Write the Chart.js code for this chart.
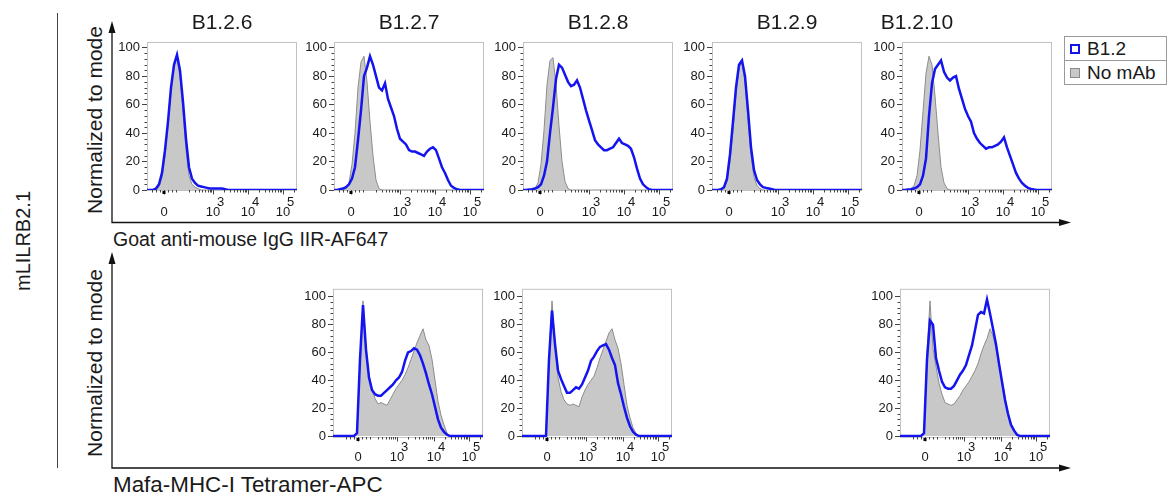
<!DOCTYPE html>
<html>
<head>
<meta charset="utf-8">
<script src="https://cdn.jsdelivr.net/npm/chart.js@4.4.1/dist/chart.umd.min.js"></script>
<style>
  body { margin: 0; background: #fff; }
  #page { position: relative; width: 1167px; height: 497px; overflow: hidden; font-family: "Liberation Sans", Arial, Helvetica, sans-serif; color: #1a1a1a; }
  #page canvas { position: absolute; }
  #frame { position: absolute; left: 0; top: 0; }
  #legend { position: absolute; left: 1064px; top: 36px; width: 101px; border: 1px solid #9a9a9a; background: #fff; }
  #legend .row { position: relative; height: 23px; font-size: 19px; line-height: 23px; padding-left: 22px; }
  #legend .row + .row { border-top: 1px solid #9a9a9a; }
  #legend .sw { position: absolute; left: 5px; top: 7px; width: 6px; height: 6px; }
</style>
</head>
<body>
<div id="page">
  <svg id="frame" width="1167" height="497" font-family="Liberation Sans, Arial, Helvetica, sans-serif" fill="#1a1a1a">
    <line x1="57.5" y1="13" x2="57.5" y2="468" stroke="#444" stroke-width="1"/>
    <!-- top row axes -->
    <polyline points="112,32 112,222.5 1060,222.5" fill="none" stroke="#111" stroke-width="1.3"/>
    <polygon points="112,21 108.5,33 115.5,33" fill="#111"/>
    <polygon points="1071,222.5 1059,219 1059,226" fill="#111"/>
    <!-- bottom row axes -->
    <polyline points="112,263 112,468 1060,468" fill="none" stroke="#111" stroke-width="1.3"/>
    <polygon points="112,252 108.5,264 115.5,264" fill="#111"/>
    <polygon points="1071,468 1059,464.5 1059,471.5" fill="#111"/>
    <text x="102" y="120" font-size="21" text-anchor="middle" transform="rotate(-90 102 120)">Normalized to mode</text>
    <text x="102" y="363" font-size="21" text-anchor="middle" transform="rotate(-90 102 363)">Normalized to mode</text>
    <text x="30" y="241" font-size="20" text-anchor="middle" transform="rotate(-90 30 241)">mLILRB2.1</text>
    <text x="113" y="246" font-size="19.5">Goat anti-mouse IgG IIR-AF647</text>
    <text x="113" y="492" font-size="22.4">Mafa-MHC-I Tetramer-APC</text>
  </svg>
  <div id="legend">
    <div class="row"><span class="sw" style="border:2px solid #1414f0;background:#fff"></span>B1.2</div>
    <div class="row"><span class="sw" style="border:1px solid #8a8a8a;background:#c8c8c8;width:8px;height:8px"></span>No mAb</div>
  </div>
</div>
<script>
// histogram bins (channel position across the plot, 0..150)
const binX = [0,3,6,9,12,15,18,21,24,27, 30,33,36,39,42,45,48,51,54,57,
              60,63,66,69,72,75,78,81,84,87, 90,93,96,99,102,105,108,111,114,117,
              120,123,126,129,132,135,138,141,144,147, 150];

const panelTitles = ['B1.2.6', 'B1.2.7', 'B1.2.8', 'B1.2.9', 'B1.2.10'];
const seriesNames = ['B1.2', 'No mAb'];

// y ticks and x tick labels (0, 10^3, 10^4, 10^5)
const yTickValues = [0, 20, 40, 60, 80, 100];
const xTickBase = ['0', '10', '10', '10'];
const xTickExp = ['', '3', '4', '5'];
const xTickPosTop = [17, 66, 101, 136];
const xTickPosBottom = [25, 64, 101, 136];

// --- Goat anti-mouse IgG (top row) ---
const anti126 = [0,0,0,1,4,12,28,48,72,88, 95,84,62,36,16,8,5,3,2.5,2,
                 1.5,1,1,1,1,1,0.5,0,0,0, 0,0,0,0,0,0,0,0,0,0,
                 0,0,0,0,0,0,0,0,0,0, 0];
const ctrl126 = [0,0,0,0,2,9,24,45,70,88, 93,80,55,28,10,4,2,1,0,0,
                 0,0,0,0,0,0,0,0,0,0, 0,0,0,0,0,0,0,0,0,0,
                 0,0,0,0,0,0,0,0,0,0, 0];
const anti127 = [0,0,0.5,1,2,4,8,16,35,56, 80,86,94,88,80,72,70,75,64,58,
                 52,43,36,34,32,28,27,27,26,25, 24,27,29,30,28,22,16,12,7,3,
                 1.5,0.5,0,0,0,0,0,0,0,0, 0];
const ctrl127 = [0,0,0,0,1,5,18,40,72,90, 94,76,48,24,7,1,0,0,0,0,
                 0,0,0,0,0,0,0,0,0,0, 0,0,0,0,0,0,0,0,0,0,
                 0,0,0,0,0,0,0,0,0,0, 0];
const anti128 = [0,0,0.3,0.5,1,2,4,10,20,40, 58,78,88,86,81,76,73,74,77,72,
                 64,56,49,42,35,32,30,28,28,29, 30,33,36,33,32,31,29,23,15,8,
                 4,2,0.5,0,0,0,0,0,0,0, 0];
const ctrl128 = [0,0,0,0,1,5,18,42,74,91, 93,74,45,20,6,1,0,0,0,0,
                 0,0,0,0,0,0,0,0,0,0, 0,0,0,0,0,0,0,0,0,0,
                 0,0,0,0,0,0,0,0,0,0, 0];
const anti129 = [0,0,0,0.5,2,8,25,48,72,88, 91,80,56,30,14,7,4,2,1.5,1,
                 0.5,0,0,0,0,0,0,0,0,0, 0,0,0,0,0,0,0,0,0,0,
                 0,0,0,0,0,0,0,0,0,0, 0];
const ctrl129 = [0,0,0,0,1,6,20,42,68,86, 90,76,50,24,9,3,1,0,0,0,
                 0,0,0,0,0,0,0,0,0,0, 0,0,0,0,0,0,0,0,0,0,
                 0,0,0,0,0,0,0,0,0,0, 0];
const anti1210 = [0,0,0.3,0.5,1,2,4,10,22,52, 75,85,88,91,83,79,77,79,80,71,
                  64,57,52,48,40,36,33,31,29,30, 30,31,32,34,37,30,24,18,12,8,
                  5,3,1.5,0.8,0.3,0,0,0,0,0, 0];
const ctrl1210 = [0,0,0,1,3,10,28,55,82,94, 88,66,40,16,5,1,0,0,0,0,
                  0,0,0,0,0,0,0,0,0,0, 0,0,0,0,0,0,0,0,0,0,
                  0,0,0,0,0,0,0,0,0,0, 0];

// --- Mafa-MHC-I tetramer (bottom row) ---
const tet127 = [0,0,0,0,0,0,0,0,2,55, 94,62,42,33,30,29,29,31,33,35,
                37,40,42,46,54,60,61,63,62,58, 52,45,37,30,21,12,6,3,1,0,
                0,0,0,0,0,0,0,0,0,0, 0];
const tetCtrl127 = [0,0,0,0,0,0,0,0,2,55, 97,63,44,34,27,23,24,23,22,26,
                    30,34,37,40,44,49,55,61,67,72, 77,69,65,55,40,25,15,8,2,0,
                    0,0,0,0,0,0,0,0,0,0, 0];
const tet128 = [0,0,0,0,0,0,0,0,0,55, 90,66,47,41,36,31,31,33,35,34,
                37,42,47,54,57,61,64,65,66,62, 56,51,38,30,21,13,7,3,1,0,
                0,0,0,0,0,0,0,0,0,0, 0];
const tetCtrl128 = [0,0,0,0,0,0,0,0,0,55, 97,66,42,32,26,23,22,23,22,21,
                    28,33,37,40,43,49,56,62,68,74, 77,69,63,52,37,22,13,6,2,0,
                    0,0,0,0,0,0,0,0,0,0, 0];
const tet1210 = [0,0,0,0,0,0,0,0,2,55, 83,80,56,47,39,35,34,34,36,40,
                 44,47,51,58,65,76,87,89,88,98, 88,77,66,52,39,26,16,8,4,1,
                 0,0,0,0,0,0,0,0,0,0, 0];
const tetCtrl1210 = [0,0,0,0,0,0,0,0,2,60, 97,63,50,38,30,24,23,22,23,26,
                     29,33,36,39,43,47,52,59,65,70, 77,72,63,51,40,28,16,9,4,1,
                     0,0,0,0,0,0,0,0,0,0, 0];

const FONT = '"Liberation Sans", Arial, Helvetica, sans-serif';
const BOX_W = 150;
const rows = [
    { top: 42, h: 148, yMin: 0, yMax: 104, ticks: xTickPosTop, labelDy: 26 },
    { top: 287, h: 150, yMin: -0.7, yMax: 105.7, ticks: xTickPosBottom, labelDy: 24 }
];

const panels = [
    { row: 0, left: 147, title: panelTitles[0], titleShift: 0, stain: anti126, ctrl: ctrl126 },
    { row: 0, left: 334, title: panelTitles[1], titleShift: 0, stain: anti127, ctrl: ctrl127 },
    { row: 0, left: 523, title: panelTitles[2], titleShift: 0, stain: anti128, ctrl: ctrl128 },
    { row: 0, left: 712, title: panelTitles[3], titleShift: 0, stain: anti129, ctrl: ctrl129 },
    { row: 0, left: 902, title: panelTitles[4], titleShift: -60, stain: anti1210, ctrl: ctrl1210 },
    { row: 1, left: 333, title: '', titleShift: 0, stain: tet127, ctrl: tetCtrl127 },
    { row: 1, left: 522, title: '', titleShift: 0, stain: tet128, ctrl: tetCtrl128 },
    { row: 1, left: 900, title: '', titleShift: 0, stain: tet1210, ctrl: tetCtrl1210 }
];

// box, axis tick marks, biexponential labels, panel title
const facsFrame = {
    id: 'facsFrame',
    beforeDatasetsDraw(chart) {
        const { ctx, chartArea: a } = chart;
        ctx.save();
        ctx.strokeStyle = '#c2c2c2';
        ctx.lineWidth = 1;
        ctx.strokeRect(a.left + 0.5, a.top + 0.5, a.right - a.left - 1, a.bottom - a.top);
        ctx.restore();
    },
    afterDraw(chart, args, opts) {
        const { ctx, chartArea: a } = chart;
        const xs = chart.scales.x, ys = chart.scales.y;
        const majors = opts.ticks;
        ctx.save();
        ctx.strokeStyle = '#444';
        ctx.lineWidth = 1;

        // y minor ticks
        for (let v = 4; v < 100; v += 4) {
            if (v % 20 === 0) continue;
            const py = Math.round(ys.getPixelForValue(v)) + 0.5;
            ctx.beginPath(); ctx.moveTo(a.left - 2.5, py); ctx.lineTo(a.left, py); ctx.stroke();
        }

        // x minor ticks: linear part around 0, log decades above
        const minor = [];
        [-12, -8, -4, 4, 8, 12].forEach(d => minor.push(majors[0] + d));
        for (let i = 1; i < majors.length; i++) {
            const lo = i === 1 ? majors[1] - (majors[2] - majors[1]) : majors[i - 1];
            const hi = majors[i];
            for (let k = 2; k <= 9; k++) {
                const p = lo + (hi - lo) * Math.log10(k);
                if (p > majors[0] + 14) minor.push(p);
            }
        }
        for (let k = 2; k <= 9; k++) {
            const p = majors[3] + (majors[3] - majors[2]) * Math.log10(k);
            if (p < 150) minor.push(p);
        }
        minor.forEach(v => {
            const px = Math.round(xs.getPixelForValue(v)) + 0.5;
            ctx.beginPath(); ctx.moveTo(px, a.bottom); ctx.lineTo(px, a.bottom + 2.5); ctx.stroke();
        });

        // x major ticks + labels with superscript exponents
        ctx.fillStyle = '#1a1a1a';
        majors.forEach((v, i) => {
            const px = xs.getPixelForValue(v);
            const rx = Math.round(px) + 0.5;
            ctx.beginPath(); ctx.moveTo(rx, a.bottom); ctx.lineTo(rx, a.bottom + 4.5); ctx.stroke();
            ctx.font = '13px ' + FONT;
            ctx.textAlign = 'center';
            ctx.textBaseline = 'alphabetic';
            ctx.fillText(xTickBase[i], px, a.bottom + opts.labelDy);
            if (xTickExp[i]) {
                ctx.textAlign = 'left';
                ctx.fillText(xTickExp[i], px + 4, a.bottom + opts.labelDy - 10);
            }
        });
        const p0 = xs.getPixelForValue(majors[0]);
        ctx.fillStyle = '#000';
        ctx.fillRect(p0 - 1.5, a.bottom + 1, 3, 3);

        if (opts.title) {
            ctx.fillStyle = '#1a1a1a';
            ctx.font = '21px ' + FONT;
            ctx.textAlign = 'center';
            ctx.textBaseline = 'alphabetic';
            ctx.fillText(opts.title, (a.left + a.right) / 2 + opts.titleShift, a.top - 13);
        }
        ctx.restore();
    }
};

const page = document.getElementById('page');

function makePanel(cfg) {
    const row = rows[cfg.row];
    const padTop = cfg.title ? 40 : 8;
    const padLeft = 46, padRight = 6, padBottom = 36;
    const canvas = document.createElement('canvas');
    canvas.width = padLeft + BOX_W + padRight;
    canvas.height = padTop + row.h + padBottom;
    canvas.style.left = (cfg.left - padLeft) + 'px';
    canvas.style.top = (row.top - padTop) + 'px';
    page.appendChild(canvas);

    new Chart(canvas.getContext('2d'), {
        type: 'line',
        data: {
            datasets: [
                {
                    label: seriesNames[0],
                    data: binX.map((x, i) => ({ x, y: cfg.stain[i] })),
                    borderColor: '#1414f0',
                    borderWidth: 2.5,
                    fill: false,
                    pointRadius: 0,
                    tension: 0,
                    order: 0
                },
                {
                    label: seriesNames[1],
                    data: binX.map((x, i) => ({ x, y: cfg.ctrl[i] })),
                    borderColor: '#8c8c8c',
                    borderWidth: 1,
                    backgroundColor: '#c8c8c8',
                    fill: 'origin',
                    pointRadius: 0,
                    tension: 0,
                    order: 1
                }
            ]
        },
        options: {
            responsive: false,
            animation: false,
            events: [],
            layout: { padding: { top: padTop, right: padRight, left: 0, bottom: 0 } },
            plugins: {
                legend: { display: false },
                tooltip: { enabled: false },
                facsFrame: { ticks: row.ticks, labelDy: row.labelDy, title: cfg.title, titleShift: cfg.titleShift }
            },
            scales: {
                x: {
                    type: 'linear', min: 0, max: 150,
                    ticks: { display: false },
                    grid: { display: false },
                    border: { display: false },
                    afterFit: s => { s.height = padBottom; }
                },
                y: {
                    min: row.yMin, max: row.yMax,
                    afterBuildTicks: s => { s.ticks = yTickValues.map(v => ({ value: v })); },
                    afterFit: s => { s.width = padLeft; },
                    ticks: { font: { size: 13, family: FONT }, color: '#1a1a1a', padding: 2, autoSkip: false },
                    grid: { drawOnChartArea: false, tickLength: 5, color: '#444' },
                    border: { display: false }
                }
            }
        },
        plugins: [facsFrame]
    });
}

panels.forEach(makePanel);
</script>
</body>
</html>
